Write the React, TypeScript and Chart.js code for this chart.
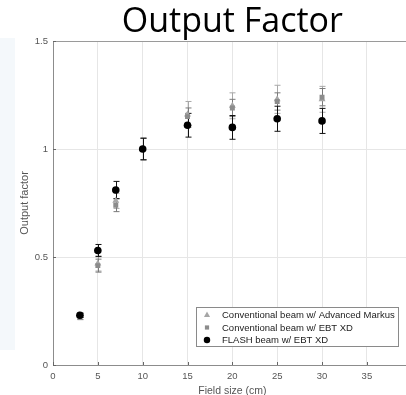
import React, { useEffect, useRef } from "react";
import { Chart, registerables } from "chart.js";

Chart.register(...registerables);

// ---- data ----
const fieldSizes = [3, 5, 7, 10, 15, 20, 25, 30];
const markusValues = [0.23, 0.47, 0.76, 1.0, 1.16, 1.2, 1.23, 1.23];
const markusErrors = [0.01, 0.035, 0.035, 0.05, 0.06, 0.06, 0.065, 0.06];
const ebtValues = [0.22, 0.46, 0.74, 1.0, 1.15, 1.19, 1.22, 1.24];
const ebtErrors = [0.01, 0.03, 0.03, 0.05, 0.04, 0.04, 0.04, 0.04];
const flashValues = [0.23, 0.53, 0.81, 1.0, 1.11, 1.1, 1.14, 1.13];
const flashErrors = [0.01, 0.028, 0.04, 0.05, 0.055, 0.055, 0.058, 0.058];
const seriesLabels = [
  "Conventional beam w/ Advanced Markus",
  "Conventional beam w/ EBT XD",
  "FLASH beam w/ EBT XD",
];
const titleText = "Output Factor";
const xAxisTitle = "Field size (cm)";
const yAxisTitle = "Output factor";
const xRange = [0, 40];
const xStep = 5;
const yRange = [0, 1.5];
const yStep = 0.5;

const TICK_FONT = "'Liberation Sans', Arial, sans-serif";

function drawMarker(ctx: CanvasRenderingContext2D, style: string, r: number, x: number, y: number) {
  ctx.beginPath();
  if (style === "triangle") {
    ctx.moveTo(x, y - r);
    ctx.lineTo(x + r * 0.9, y + r * 0.6);
    ctx.lineTo(x - r * 0.9, y + r * 0.6);
    ctx.closePath();
  } else if (style === "rect") {
    const s = r * Math.SQRT1_2;
    ctx.rect(x - s, y - s, 2 * s, 2 * s);
  } else {
    ctx.arc(x, y, r, 0, Math.PI * 2);
  }
  ctx.fill();
}

const errorBarPlugin = {
  id: "errorBars",
  beforeDatasetsDraw(chart: any) {
    const ctx = chart.ctx;
    const xs = chart.scales.x;
    const ys = chart.scales.y;
    [0, 1, 2].forEach((di) => {
      const ds: any = chart.data.datasets[di];
      const errs: number[] = ds.errorBars || [];
      ctx.save();
      ctx.strokeStyle = ds.errorColor || ds.backgroundColor;
      ctx.lineWidth = 1;
      ds.data.forEach((pt: any, i: number) => {
        const e = errs[i];
        if (e == null) return;
        const px = Math.round(xs.getPixelForValue(pt.x)) + 0.5;
        const top = ys.getPixelForValue(pt.y + e);
        const bot = ys.getPixelForValue(pt.y - e);
        ctx.beginPath();
        ctx.moveTo(px, top);
        ctx.lineTo(px, bot);
        ctx.moveTo(px - 3, top);
        ctx.lineTo(px + 3, top);
        ctx.moveTo(px - 3, bot);
        ctx.lineTo(px + 3, bot);
        ctx.stroke();
      });
      ctx.restore();
    });
  },
};

const frameAndLegendPlugin = {
  id: "frameLegend",
  afterDraw(chart: any) {
    const ctx = chart.ctx;
    const a = chart.chartArea;
    const xs = chart.scales.x;
    const ys = chart.scales.y;
    ctx.save();
    ctx.strokeStyle = "#9a9a9a";
    ctx.lineWidth = 1;
    ctx.beginPath();
    ctx.moveTo(a.left, Math.round(a.top) + 0.5);
    ctx.lineTo(a.right, Math.round(a.top) + 0.5);
    ctx.stroke();
    ctx.strokeStyle = "#666";
    xs.ticks.forEach((t: any) => {
      const px = Math.round(xs.getPixelForValue(t.value)) + 0.5;
      ctx.beginPath();
      ctx.moveTo(px, a.bottom);
      ctx.lineTo(px, a.bottom - 3);
      ctx.stroke();
    });
    ys.ticks.forEach((t: any) => {
      const py = Math.round(ys.getPixelForValue(t.value)) + 0.5;
      ctx.beginPath();
      ctx.moveTo(a.left, py);
      ctx.lineTo(a.left + 3, py);
      ctx.stroke();
    });

    const boxRight = a.right - 14;
    const boxBottom = a.bottom - 19;
    const boxW = 202;
    const boxH = 39;
    const bx = Math.round(boxRight - boxW);
    const by = Math.round(boxBottom - boxH);
    ctx.fillStyle = "#ffffff";
    ctx.fillRect(bx, by, boxW, boxH);
    ctx.strokeStyle = "#8a8a8a";
    ctx.lineWidth = 1;
    ctx.strokeRect(bx + 0.5, by + 0.5, boxW, boxH);
    ctx.font = `9.5px ${TICK_FONT}`;
    ctx.textBaseline = "middle";
    ctx.textAlign = "left";
    chart.data.datasets.forEach((ds: any, i: number) => {
      const cy = by + 8 + i * 12.5;
      const mx = bx + 11;
      ctx.fillStyle = ds.backgroundColor;
      drawMarker(ctx, ds.pointStyle, ds.pointRadius * 0.85, mx, cy);
      ctx.fillStyle = "#222";
      ctx.fillText(ds.label, bx + 26, cy + 0.5);
    });
    ctx.restore();
  },
};

export default function App() {
  const ref = useRef<HTMLCanvasElement | null>(null);

  useEffect(() => {
    const canvas = ref.current;
    if (!canvas) return;
    const mk = (vals: number[]) => fieldSizes.map((x, i) => ({ x, y: vals[i] }));
    const chart = new Chart(canvas, {
      type: "scatter",
      data: {
        datasets: [
          {
            label: seriesLabels[0],
            data: mk(markusValues),
            errorBars: markusErrors,
            errorColor: "#a8a8a8",
            pointStyle: "triangle",
            pointRadius: 4,
            backgroundColor: "#a6a6a6",
            borderColor: "#a6a6a6",
            borderWidth: 0,
            order: 3,
          } as any,
          {
            label: seriesLabels[1],
            data: mk(ebtValues),
            errorBars: ebtErrors,
            errorColor: "#7a7a7a",
            pointStyle: "rect",
            pointRadius: 3.5,
            backgroundColor: "#8c8c8c",
            borderColor: "#8c8c8c",
            borderWidth: 0,
            order: 2,
          } as any,
          {
            label: seriesLabels[2],
            data: mk(flashValues),
            errorBars: flashErrors,
            errorColor: "#111111",
            pointStyle: "circle",
            pointRadius: 3.8,
            backgroundColor: "#000000",
            borderColor: "#000000",
            borderWidth: 0,
            order: 1,
          } as any,
        ],
      },
      options: {
        animation: false,
        responsive: false,
        devicePixelRatio: 1,
        layout: { padding: { left: 0, right: 7, top: 0, bottom: 0 } },
        plugins: {
          legend: { display: false },
          tooltip: { enabled: false },
          title: {
            display: true,
            text: titleText,
            fullSize: false,
            color: "#000",
            font: { family: "'Open Sans', sans-serif", size: 34, weight: "normal", lineHeight: 1.0 },
            padding: { top: 5, bottom: 2 },
          },
        },
        scales: {
          x: {
            type: "linear",
            min: xRange[0],
            max: xRange[1],
            afterFit: (s: any) => {
              s.height = 35;
            },
            ticks: {
              stepSize: xStep,
              color: "#555",
              font: { family: TICK_FONT, size: 9.5 },
              padding: 6,
            },
            grid: { color: "#e6e6e6", drawTicks: false },
            border: { display: true, color: "#8c8c8c" },
            title: {
              display: true,
              text: xAxisTitle,
              color: "#555",
              font: { family: TICK_FONT, size: 10.5 },
              padding: { top: 0, bottom: 3 },
            },
          },
          y: {
            type: "linear",
            min: yRange[0],
            max: yRange[1],
            afterFit: (s: any) => {
              s.width = 53;
            },
            ticks: {
              stepSize: yStep,
              color: "#555",
              font: { family: TICK_FONT, size: 9.5 },
              padding: 5,
              callback: (v: any) => String(v),
            },
            grid: { color: "#e6e6e6", drawTicks: false },
            border: { display: true, color: "#8c8c8c" },
            title: {
              display: true,
              text: yAxisTitle,
              color: "#555",
              font: { family: TICK_FONT, size: 11 },
              padding: { top: 18, bottom: 0 },
            },
          },
        },
      },
      plugins: [errorBarPlugin, frameAndLegendPlugin],
    } as any);
    return () => chart.destroy();
  }, []);

  return (
    <div
      style={{
        position: "fixed",
        left: 0,
        top: 0,
        width: 406,
        height: 395,
        overflow: "hidden",
        background: "#ffffff",
      }}
    >
      <div
        style={{
          position: "absolute",
          left: 0,
          top: 38,
          width: 15,
          height: 312,
          background: "#f4f8fb",
        }}
      />
      <canvas
        ref={ref}
        width={423}
        height={400}
        style={{ position: "absolute", left: 0, top: 0, width: 423, height: 400 }}
      />
    </div>
  );
}
